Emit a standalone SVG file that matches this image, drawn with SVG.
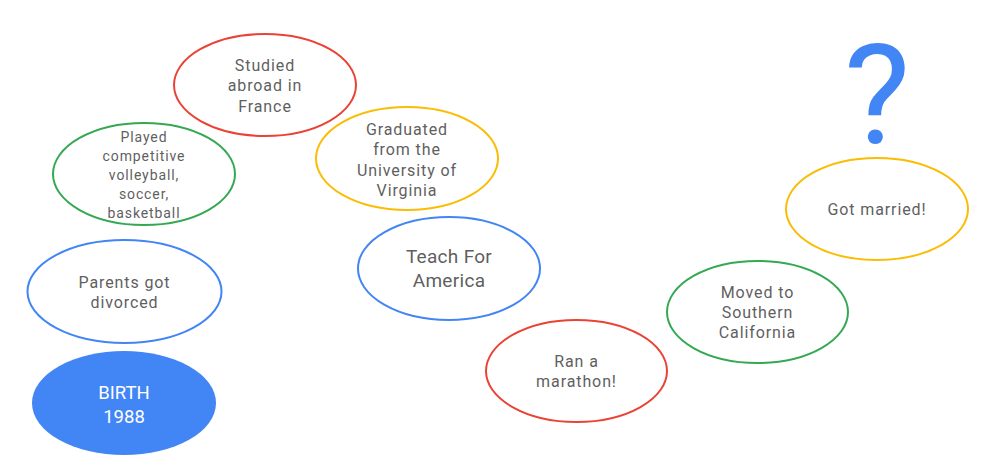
<svg xmlns="http://www.w3.org/2000/svg" width="983" height="475" viewBox="0 0 983 475">
<style>
.n{fill:#fff;stroke-width:2}
.r{stroke:#EA4335}.g{stroke:#34A853}.b{stroke:#4285F4}.y{stroke:#FBBC04}
text{font-family:Roboto,"Liberation Sans",sans-serif;fill:#5f5f5f;text-anchor:middle;font-size:16px;letter-spacing:0.9px}
.s{font-size:14px;letter-spacing:0.9px}
.l{font-size:19px;letter-spacing:0.3px}
.w{fill:#fff;font-size:18.5px;letter-spacing:0}
</style>
<rect width="983" height="475" fill="#fff"/>
<g id="connectors"/>
<g id="birth"><ellipse cx="124" cy="403" rx="92" ry="52" fill="#4285F4"/><text class="w" x="124" y="399">BIRTH</text><text class="w" x="124" y="423">1988</text></g>
<g id="parents"><ellipse class="n b" cx="124.5" cy="291.5" rx="97" ry="51.5"/><text x="124.5" y="288">Parents got</text><text x="124.5" y="308">divorced</text></g>
<g id="played"><ellipse class="n g" cx="144" cy="174" rx="91" ry="51"/><text class="s" x="144" y="142">Played</text><text class="s" x="144" y="161">competitive</text><text class="s" x="144" y="180">volleyball,</text><text class="s" x="144" y="199">soccer,</text><text class="s" x="144" y="218">basketball</text></g>
<g id="studied"><ellipse class="n r" cx="265" cy="85" rx="91" ry="51"/><text x="265" y="71">Studied</text><text x="265" y="91">abroad in</text><text x="265" y="112">France</text></g>
<g id="graduated"><ellipse class="n y" cx="407" cy="158.5" rx="91" ry="51.5"/><text x="407" y="135">Graduated</text><text x="407" y="155">from the</text><text x="407" y="176">University of</text><text x="407" y="196">Virginia</text></g>
<g id="teach"><ellipse class="n b" cx="449" cy="268.5" rx="91" ry="51.5"/><text class="l" x="449" y="263">Teach For</text><text class="l" x="449" y="287">America</text></g>
<g id="marathon"><ellipse class="n r" cx="576.5" cy="371" rx="90.5" ry="51"/><text x="576.5" y="367">Ran a</text><text x="576.5" y="387">marathon!</text></g>
<g id="moved"><ellipse class="n g" cx="757.5" cy="312" rx="90.5" ry="51"/><text x="757.5" y="298">Moved to</text><text x="757.5" y="318">Southern</text><text x="757.5" y="338">California</text></g>
<g id="married"><ellipse class="n y" cx="877" cy="209" rx="91" ry="51"/><text x="877" y="215">Got married!</text></g>
<g id="question"><text x="877" y="143" style="font-size:140px;fill:#4285F4;font-weight:400;letter-spacing:0">?</text></g>
</svg>
